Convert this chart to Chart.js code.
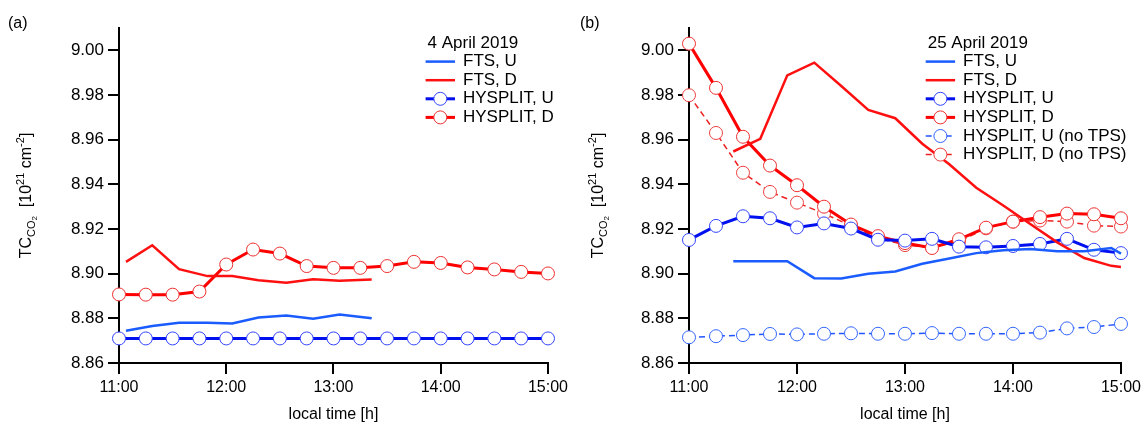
<!DOCTYPE html>
<html>
<head>
<meta charset="utf-8">
<script src="https://cdn.jsdelivr.net/npm/chart.js@4"></script>
<style>
  body { margin: 0; background: #fff; }
  .panel { position: absolute; top: 0; }
  #left { left: 0; }
  #right { left: 572px; }
</style>
</head>
<body>
<div class="panel" id="left"><canvas id="chartA" width="572" height="429"></canvas></div>
<div class="panel" id="right"><canvas id="chartB" width="573" height="429"></canvas></div>
<script>
// axis ticks (both panels)
const xTicks = [11, 12, 13, 14, 15];
const xTickLabels = ['11:00', '12:00', '13:00', '14:00', '15:00'];
const yTicks = [8.86, 8.88, 8.90, 8.92, 8.94, 8.96, 8.98, 9.00];
const yTickLabels = ['8.86', '8.88', '8.90', '8.92', '8.94', '8.96', '8.98', '9.00'];

// HYSPLIT runs every 15 min (local time in hours)
const hysTimes = [11, 11.25, 11.5, 11.75, 12, 12.25, 12.5, 12.75, 13, 13.25, 13.5, 13.75, 14, 14.25, 14.5, 14.75, 15];

// (a) 4 April 2019
const aprFtsTimes = [11.065, 11.31, 11.56, 11.825, 12.056, 12.30, 12.56, 12.81, 13.057, 13.356];
const aprFtsU = [8.8744, 8.8766, 8.8780, 8.8780, 8.8777, 8.8804, 8.8813, 8.8798, 8.8817, 8.8800];
const aprFtsD = [8.9053, 8.9127, 8.9020, 8.8989, 8.8989, 8.8971, 8.8959, 8.8975, 8.8968, 8.8974];
const aprHysU = [8.871, 8.871, 8.871, 8.871, 8.871, 8.871, 8.871, 8.871, 8.871, 8.871, 8.871, 8.871, 8.871, 8.871, 8.871, 8.871, 8.871];
const aprHysD = [8.8907, 8.8906, 8.8906, 8.8920, 8.9041, 8.9108, 8.9090, 8.9034, 8.9026, 8.9026, 8.9034, 8.9053, 8.9048, 8.9028, 8.9019, 8.9008, 8.9001];

// (b) 25 April 2019
const lateFtsTimes = [11.41, 11.66, 11.91, 12.16, 12.41, 12.66, 12.91, 13.16, 13.41, 13.66, 13.91, 14.16, 14.41, 14.66, 14.91, 15.0];
const lateFtsU = [8.9056, 8.9056, 8.9056, 8.8980, 8.8978, 8.9000, 8.9010, 8.9044, 8.9068, 8.9092, 8.9105, 8.9110, 8.9100, 8.9100, 8.9115, 8.9090];
const lateFtsD = [8.9547, 8.9604, 8.9888, 8.9945, 8.9840, 8.9733, 8.9696, 8.9582, 8.9490, 8.9385, 8.9305, 8.9222, 8.9140, 8.9070, 8.9035, 8.9030];
const lateHysU = [8.9151, 8.9214, 8.9257, 8.9248, 8.9207, 8.9225, 8.9202, 8.9152, 8.9148, 8.9156, 8.9121, 8.9118, 8.9124, 8.9133, 8.9156, 8.9107, 8.9092];
const lateHysD = [9.0030, 8.9832, 8.9613, 8.9484, 8.9396, 8.9300, 8.9220, 8.9168, 8.9137, 8.9115, 8.9154, 8.9206, 8.9233, 8.9253, 8.9269, 8.9266, 8.9248];
const lateHysUnoTps = [8.8715, 8.8720, 8.8725, 8.8730, 8.8728, 8.8731, 8.8733, 8.8731, 8.8731, 8.8734, 8.8731, 8.8731, 8.8731, 8.8736, 8.8755, 8.8761, 8.8775];
const lateHysDnoTps = [8.9799, 8.9630, 8.9452, 8.9366, 8.9318, 8.9269, 8.9215, 8.9160, 8.9128, 8.9118, 8.9144, 8.9203, 8.9233, 8.9238, 8.9233, 8.9215, 8.9211];

const FONT = '"Liberation Sans", Arial, sans-serif';
Chart.defaults.font.family = FONT;
Chart.defaults.font.size = 16;
Chart.defaults.color = '#000';

const pts = (xs, ys) => xs.map((x, i) => ({ x: x, y: ys[i] }));

const ftsStyle = (color) => ({ borderColor: color, borderWidth: 2.5, pointRadius: 0 });
const hysStyle = (line, marker, dashed) => ({
  borderColor: line,
  borderWidth: dashed ? 1.5 : 3,
  borderDash: dashed ? [6, 4] : [],
  pointRadius: 6.5,
  pointBorderWidth: 1,
  pointBorderColor: marker,
  pointBackgroundColor: '#fff'
});

// legend drawn inside the plot area
const boxLegend = {
  id: 'boxLegend',
  afterDraw(chart, args, opts) {
    const ctx = chart.ctx;
    ctx.save();
    ctx.font = '17px ' + FONT;
    ctx.textBaseline = 'middle';
    ctx.textAlign = 'left';
    ctx.fillStyle = '#000';
    ctx.fillText(opts.title, opts.x + 2, opts.y);
    chart.data.datasets.forEach((ds, i) => {
      const y = opts.y + (i + 1) * opts.rowGap;
      ctx.strokeStyle = ds.borderColor;
      ctx.lineWidth = ds.borderWidth;
      ctx.setLineDash(ds.borderDash || []);
      ctx.beginPath();
      ctx.moveTo(opts.x, y);
      ctx.lineTo(opts.x + opts.sample, y);
      ctx.stroke();
      ctx.setLineDash([]);
      if (ds.pointRadius > 0) {
        ctx.beginPath();
        ctx.arc(opts.x + opts.sample / 2, y, ds.pointRadius, 0, Math.PI * 2);
        ctx.fillStyle = '#fff';
        ctx.fill();
        ctx.lineWidth = ds.pointBorderWidth;
        ctx.strokeStyle = ds.pointBorderColor;
        ctx.stroke();
      }
      ctx.fillStyle = '#000';
      ctx.fillText(ds.label, opts.x + opts.sample + 8, y);
    });
    ctx.restore();
  }
};

// rotated y title with sub/superscripts, plus the panel letter
const extraText = {
  id: 'extraText',
  afterDraw(chart, args, opts) {
    const ctx = chart.ctx;
    const parts = [['TC', 16, 0], ['CO', 11, 4], ['2', 8, 6], ['  [10', 16, 0], ['21', 11, -7], [' cm', 16, 0], ['-2', 11, -7], [']', 16, 0]];
    ctx.save();
    ctx.fillStyle = '#000';
    ctx.textAlign = 'left';
    ctx.textBaseline = 'alphabetic';
    ctx.font = '16px ' + FONT;
    ctx.fillText(opts.panel, 8, 28);
    const cy = (chart.chartArea.top + chart.chartArea.bottom) / 2;
    ctx.translate(opts.x, cy);
    ctx.rotate(-Math.PI / 2);
    let total = 0;
    parts.forEach(p => { ctx.font = p[1] + 'px ' + FONT; total += ctx.measureText(p[0]).width; });
    let x = -total / 2;
    parts.forEach(p => {
      ctx.font = p[1] + 'px ' + FONT;
      ctx.fillText(p[0], x, 6 + p[2]);
      x += ctx.measureText(p[0]).width;
    });
    ctx.restore();
  }
};

function makeOptions(yWidth, padRight, legend, panel) {
  return {
    responsive: false,
    animation: false,
    layout: { padding: { top: 28, right: padRight, left: 0, bottom: 0 } },
    elements: { line: { tension: 0, fill: false } },
    datasets: { line: { clip: false } },
    scales: {
      x: {
        type: 'linear', min: 11, max: 15,
        afterBuildTicks: s => { s.ticks = xTicks.map(v => ({ value: v })); },
        afterFit: s => { s.height = 66; },
        ticks: { autoSkip: false, maxRotation: 0, padding: 4, callback: (v, i) => xTickLabels[i] },
        grid: { drawOnChartArea: false, drawTicks: true, tickLength: 11, color: '#000', lineWidth: 2 },
        border: { display: true, color: '#000', width: 2 },
        title: { display: true, text: 'local time [h]', padding: { top: 0, bottom: 5 } }
      },
      y: {
        type: 'linear', min: 8.86, max: 9.01,
        afterBuildTicks: s => { s.ticks = yTicks.map(v => ({ value: v })); },
        afterFit: s => { s.width = yWidth; },
        ticks: { autoSkip: false, padding: 4, font: { size: 17 }, callback: (v, i) => yTickLabels[i] },
        grid: { drawOnChartArea: false, drawTicks: true, tickLength: 11, color: '#000', lineWidth: 2 },
        border: { display: true, color: '#000', width: 2 }
      }
    },
    plugins: {
      legend: { display: false },
      tooltip: { enabled: false },
      boxLegend: legend,
      extraText: { x: 25, panel: panel }
    }
  };
}

new Chart(document.getElementById('chartA'), {
  type: 'line',
  data: {
    datasets: [
      Object.assign({ label: 'FTS, U', data: pts(aprFtsTimes, aprFtsU) }, ftsStyle('#1a5cff')),
      Object.assign({ label: 'FTS, D', data: pts(aprFtsTimes, aprFtsD) }, ftsStyle('#ff1010')),
      Object.assign({ label: 'HYSPLIT, U', data: pts(hysTimes, aprHysU) }, hysStyle('#0010ee', '#3344ff', false)),
      Object.assign({ label: 'HYSPLIT, D', data: pts(hysTimes, aprHysD) }, hysStyle('#ff0000', '#ee3030', false))
    ]
  },
  options: makeOptions(119, 20, { title: '4 April 2019', x: 425.6, y: 43, rowGap: 18.6, sample: 29.4 }, '(a)'),
  plugins: [boxLegend, extraText]
});

new Chart(document.getElementById('chartB'), {
  type: 'line',
  data: {
    datasets: [
      Object.assign({ label: 'FTS, U', data: pts(lateFtsTimes, lateFtsU) }, ftsStyle('#1a5cff')),
      Object.assign({ label: 'FTS, D', data: pts(lateFtsTimes, lateFtsD) }, ftsStyle('#ff1010')),
      Object.assign({ label: 'HYSPLIT, U', data: pts(hysTimes, lateHysU) }, hysStyle('#0010ee', '#3344ff', false)),
      Object.assign({ label: 'HYSPLIT, D', data: pts(hysTimes, lateHysD) }, hysStyle('#ff0000', '#ee3030', false)),
      Object.assign({ label: 'HYSPLIT, U (no TPS)', data: pts(hysTimes, lateHysUnoTps) }, hysStyle('#2255ff', '#3366ff', true)),
      Object.assign({ label: 'HYSPLIT, D (no TPS)', data: pts(hysTimes, lateHysDnoTps) }, hysStyle('#ee2020', '#ee4040', true))
    ]
  },
  options: makeOptions(117, 23, { title: '25 April 2019', x: 353.7, y: 43, rowGap: 18.6, sample: 29.4 }, '(b)'),
  plugins: [boxLegend, extraText]
});
</script>
</body>
</html>
